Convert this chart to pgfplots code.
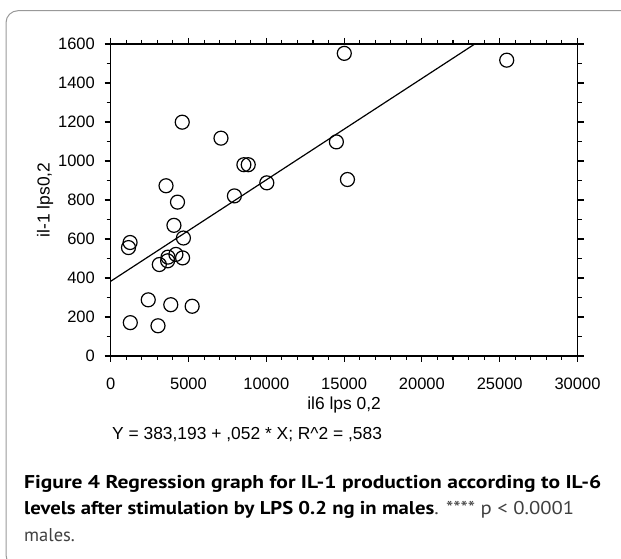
\documentclass[border=0pt]{standalone}
\usepackage{pgfplots}
\pgfplotsset{compat=1.18}
\usepackage{fontspec}
\setmainfont{Liberation Sans}
\newfontfamily\capfont{PT Sans}
\pgfplotstableread{
x y
15012 1552
25451 1517
4597 1199
7087 1117
14503 1098
8560 981
8839 981
15215 905
10033 888
3556 873
7950 821
4293 789
4064 670
1245 582
1143 556
4674 605
4191 521
3683 507
3658 488
4620 503
3124 469
2413 288
3861 263
5235 255
1260 171
3040 155
}\datatable
\begin{document}
\begin{tikzpicture}[x=1pt,y=1pt]
\useasboundingbox (0,0) rectangle (621,559);
\draw[black!40, line width=1pt, rounded corners=12pt] (6,-8) rectangle (660,548.3);
\begin{axis}[
  at={(110.7pt,203pt)}, anchor=south west,
  scale only axis, width=466.8pt, height=312pt,
  xmin=0, xmax=30000, ymin=0, ymax=1600,
  xtick={0,5000,...,30000}, ytick={0,200,...,1600},
  minor x tick num=4, minor y tick num=1,
  tick align=outside, tick pos=both,
  major tick length=6pt, minor tick length=4pt,
  axis line style={line width=1.3pt},
  every tick/.style={line width=1.1pt, black},
  scaled ticks=false,
  /pgf/number format/1000 sep={},
  /pgf/number format/assume math mode=true,
  tick label style={font=\fontsize{16.5}{19}\selectfont, inner sep=0pt},
  xticklabel style={anchor=north},
  yticklabel style={anchor=east},
  xticklabel shift=16pt,
  yticklabel shift=9.7pt,
  label style={font=\fontsize{17.4}{20}\selectfont, inner sep=0pt},
  xlabel={il6 lps 0,2},
  ylabel={il-1 lps0,2},
  xlabel style={at={(axis description cs:0.5,-0.1314)}, anchor=north},
  ylabel style={at={(axis description cs:-0.1225,0.5)}, anchor=south},
  clip=false,
]
\addplot[only marks, mark=o, mark size=7pt, mark options={line width=1.2pt, black}] table[x=x,y=y] {\datatable};
\addplot[black, line width=1.2pt, no marks] coordinates {(0,383.193) (23400,1600)};
\end{axis}
\node[anchor=base west, inner sep=0pt, font=\fontsize{17.4}{20}\selectfont] at (112,119.8) {Y = 383,193 + ,052 * X; R\textasciicircum 2 = ,583};
\node[anchor=base west, inner sep=0pt] at (24,70.5) {\resizebox{577pt}{\height}{\capfont\fontsize{18.5}{22}\selectfont\bfseries Figure 4 Regression graph for IL-1 production according to IL-6}};
\node[anchor=base west, inner sep=0pt] at (24,44) {\resizebox{550pt}{\height}{\capfont\fontsize{18.5}{22}\selectfont{\bfseries levels after stimulation by LPS 0.2 ng in males}{\color{black!75}. **** p < 0.0001}}};
\node[anchor=base west, inner sep=0pt] at (24,17.3) {\capfont\fontsize{18.5}{22}\selectfont\color{black!75}males.};
\end{tikzpicture}
\end{document}
